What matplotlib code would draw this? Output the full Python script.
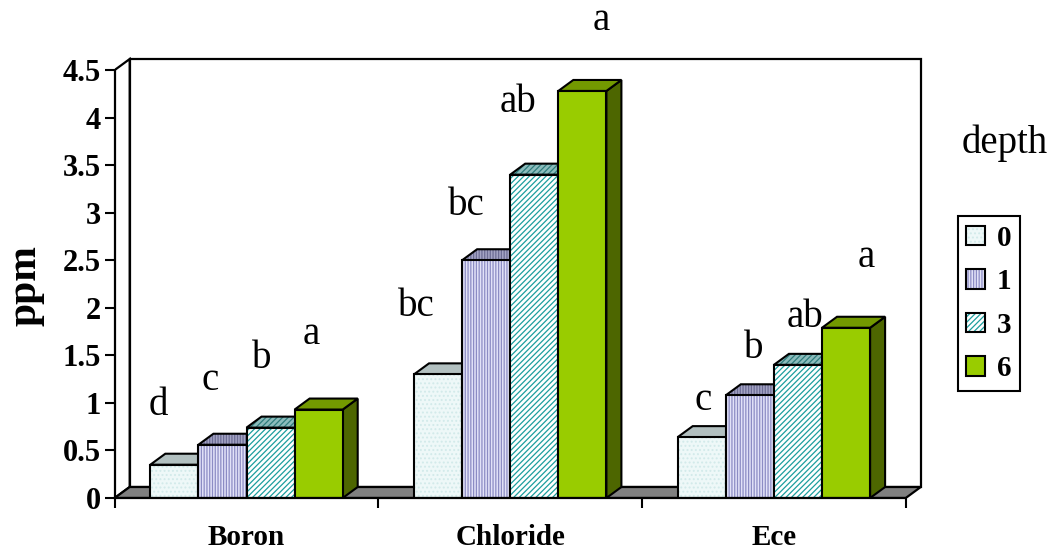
import matplotlib
matplotlib.use('Agg')
import matplotlib.pyplot as plt
from matplotlib.patches import Polygon, Patch

plt.rcParams['font.family'] = ['Liberation Serif', 'DejaVu Serif']
plt.rcParams['hatch.linewidth'] = 0.9

# data
categories = ['Boron', 'Chloride', 'Ece']
depths = ['0', '1', '3', '6']
boron = [0.35, 0.56, 0.74, 0.93]
chloride = [1.30, 2.50, 3.40, 4.28]
ece = [0.64, 1.08, 1.40, 1.79]
letters = [['d', 'c', 'b', 'a'],
           ['bc', 'bc', 'ab', 'a'],
           ['c', 'b', 'ab', 'a']]
yticks = [0, 0.5, 1, 1.5, 2, 2.5, 3, 3.5, 4, 4.5]
ytick_labels = ['0', '0.5', '1', '1.5', '2', '2.5', '3', '3.5', '4', '4.5']

# where the significance letters sit (x offset from group centre, baseline height)
letter_dx = [[-0.336, -0.138, 0.059, 0.245],
             [-0.357, -0.168, 0.030, 0.344],
             [-0.269, -0.075, 0.118, 0.349]]
letter_y = [[0.873, 1.136, 1.367, 1.619],
            [1.914, 2.976, 4.059, 4.921],
            [0.925, 1.472, 1.798, 2.429]]

values = [boron, chloride, ece]

# per depth: front colour, hatch, hatch colour, top colour, top hatch colour, side colour
styles = [
    ('#eef8f8', '....', '#d2eaea', '#b2c0c0', '#b2c0c0', '#8a9a9a'),
    ('#e2e2f8', '||||||', '#8c8cc4', '#a4a4c4', '#6c6c94', '#6c6c94'),
    ('#ffffff', '//////', '#1c9e9e', '#8cbcbc', '#2e7c7c', '#2e7c7c'),
    ('#99cc00', '', '#99cc00', '#739900', '#739900', '#4d6600'),
]

width = 0.1824
dx, dy = 0.0569, 0.1157   # depth offset of the 3d boxes, in data units
ymax = 4.5

fig = plt.figure(figsize=(10.6, 5.55), dpi=100)
ax = fig.add_axes([114.65 / 1060, 57 / 555, 3.15 * 263.7 / 1060, 4.7 * 95.1 / 555])
ax.set_xlim(-0.5, 2.65)
ax.set_ylim(0, 4.7)
ax.patch.set_visible(False)

# walls and floor
back = Polygon([(-0.5 + dx, dy), (2.5 + dx, dy), (2.5 + dx, ymax + dy), (-0.5 + dx, ymax + dy)],
               closed=True, facecolor='white', edgecolor='black', lw=1.6, zorder=1)
left = Polygon([(-0.5, 0), (-0.5 + dx, dy), (-0.5 + dx, ymax + dy), (-0.5, ymax)],
               closed=True, facecolor='white', edgecolor='black', lw=1.6, zorder=1.2)
floor = Polygon([(-0.5, 0), (2.5, 0), (2.5 + dx, dy), (-0.5 + dx, dy)],
                closed=True, facecolor='#808080', edgecolor='black', lw=1.6, zorder=1.5)
for p in (back, left, floor):
    ax.add_patch(p)

# 3d columns
for j in range(len(depths)):
    face, hatch, hcol, topc, tophc, sidec = styles[j]
    z = 3 + 3 * j
    xs = [i + (j - 1.5) * width for i in range(len(categories))]
    hs = [values[i][j] for i in range(len(categories))]
    for x, h in zip(xs, hs):
        x0 = x - width / 2
        x1 = x + width / 2
        side = Polygon([(x1, 0), (x1 + dx, dy), (x1 + dx, h + dy), (x1, h)], closed=True,
                       facecolor=sidec, edgecolor='black', lw=1.5, zorder=z)
        top_fill = Polygon([(x0, h), (x1, h), (x1 + dx, h + dy), (x0 + dx, h + dy)], closed=True,
                           facecolor=topc, edgecolor=tophc, hatch=hatch, lw=0, zorder=z + 0.5)
        top_edge = Polygon([(x0, h), (x1, h), (x1 + dx, h + dy), (x0 + dx, h + dy)], closed=True,
                           fill=False, edgecolor='black', lw=1.5, zorder=z + 0.6)
        ax.add_patch(side)
        ax.add_patch(top_fill)
        ax.add_patch(top_edge)
    ax.bar(xs, hs, width, color=face, edgecolor=hcol, hatch=hatch, lw=0, zorder=z + 1)
    ax.bar(xs, hs, width, fill=False, edgecolor='black', lw=1.5, zorder=z + 1.1)

# significance letters
for i in range(len(categories)):
    for j in range(len(depths)):
        ax.text(i + letter_dx[i][j], letter_y[i][j], letters[i][j], ha='center', va='baseline',
                fontsize=28, clip_on=False, zorder=20)

# axes
for s in ('top', 'right'):
    ax.spines[s].set_visible(False)
ax.spines['left'].set_bounds(0, ymax)
ax.spines['bottom'].set_bounds(-0.5, 2.5)
ax.spines['left'].set_linewidth(1.6)
ax.spines['bottom'].set_linewidth(1.6)
ax.spines['left'].set_zorder(25)
ax.spines['bottom'].set_zorder(25)

ax.set_yticks(yticks)
ax.set_yticklabels(ytick_labels, fontsize=22, fontweight='bold')
ax.tick_params(axis='y', length=7, width=1.5, pad=3)

ax.set_xticks([-0.5, 0.5, 1.5, 2.5])
ax.set_xticklabels([])
ax.tick_params(axis='x', which='major', length=7, width=1.5)
ax.set_xticks([0, 1, 2], minor=True)
ax.set_xticklabels(categories, minor=True, fontsize=21, fontweight='bold')
ax.tick_params(axis='x', which='minor', length=0, pad=19)

ax.set_ylabel('ppm', fontsize=30, fontweight='bold')
ax.yaxis.set_label_coords(-0.084, 0.4765)

# legend
handles = []
for j in range(len(depths)):
    face, hatch, hcol = styles[j][:3]
    handles.append((Patch(facecolor=face, edgecolor=hcol, hatch=hatch, lw=0),
                    Patch(fill=False, edgecolor='black', lw=1.5)))
leg = fig.legend(handles, depths, loc='center', bbox_to_anchor=(989 / 1060, 1 - 303.5 / 555),
                 bbox_transform=fig.transFigure, prop={'weight': 'bold', 'size': 21},
                 handlelength=0.65, handleheight=0.65, handletextpad=0.4, labelspacing=0.57,
                 borderpad=0.3, fancybox=False, framealpha=1, edgecolor='black')
leg.get_frame().set_linewidth(1.5)

fig.text(1005 / 1060, 1 - 143 / 555, 'depth', ha='center', va='center', fontsize=28)

fig.savefig('out.png', dpi=100)
